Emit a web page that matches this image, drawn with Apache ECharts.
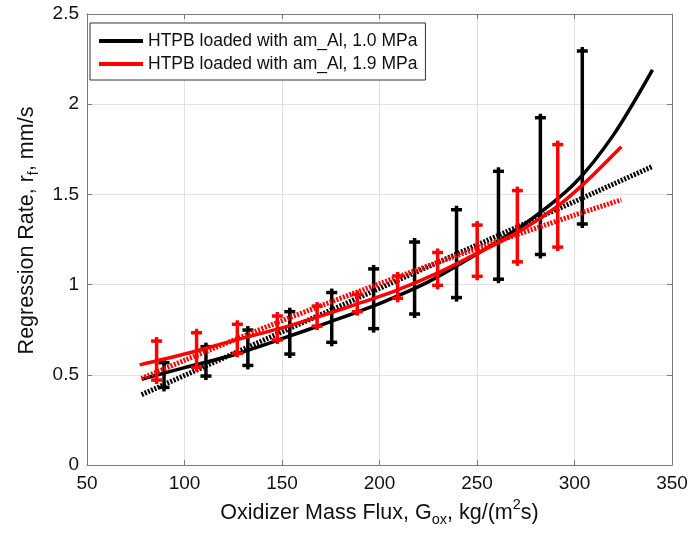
<!DOCTYPE html>
<html>
<head>
<meta charset="utf-8">
<script src="https://cdn.jsdelivr.net/npm/echarts@6/dist/echarts.min.js"></script>
<style>html,body{margin:0;padding:0;background:#fff}#c{width:691px;height:533px}</style>
</head>
<body>
<div id="c"></div>
<script>
// ---- data ----
const seriesNames = ['HTPB loaded with am_Al, 1.0 MPa', 'HTPB loaded with am_Al, 1.9 MPa'];

// error bars, 1.0 MPa (black)
const blackBarX    = [89.5, 111, 132.5, 154, 175.5, 197, 218, 239.5, 261, 282.5, 304];
const blackBarLow  = [0.43, 0.493, 0.552, 0.615, 0.68, 0.756, 0.837, 0.928, 1.03, 1.167, 1.336];
const blackBarHigh = [0.567, 0.656, 0.748, 0.85, 0.956, 1.087, 1.236, 1.415, 1.628, 1.925, 2.295];

// error bars, 1.9 MPa (red)
const redBarX    = [85.7, 106.2, 127.1, 147.6, 168, 188.6, 209.3, 229.8, 250.1, 270.7, 291.4];
const redBarLow  = [0.471, 0.541, 0.619, 0.693, 0.77, 0.85, 0.924, 0.996, 1.046, 1.126, 1.208];
const redBarHigh = [0.687, 0.733, 0.78, 0.826, 0.881, 0.945, 1.048, 1.178, 1.33, 1.521, 1.776];

// fitted curves (solid) and trend lines (dotted)
const blackFitX = [78, 100, 125, 150, 175, 200, 225, 250, 275, 300, 320, 340];
const blackFitY = [0.475, 0.54, 0.61, 0.70, 0.795, 0.895, 1.015, 1.17, 1.34, 1.56, 1.83, 2.19];
const redFitX   = [77, 100, 127, 150, 168, 185, 209, 230, 250, 270, 291, 305, 324];
const redFitY   = [0.555, 0.615, 0.695, 0.76, 0.82, 0.88, 0.97, 1.065, 1.173, 1.284, 1.432, 1.561, 1.764];
const blackTrendX = [78, 150, 200, 250, 300, 340];
const blackTrendY = [0.39, 0.738, 0.979, 1.22, 1.46, 1.655];
const redTrendX   = [78, 100, 150, 200, 250, 300, 324];
const redTrendY   = [0.48, 0.58, 0.80, 1.005, 1.20, 1.385, 1.47];

const xTickValues = [50, 100, 150, 200, 250, 300, 350];
const yTickValues = [0, 0.5, 1, 1.5, 2, 2.5];

// ---- chart ----
const zip = (xs, ys) => xs.map((x, i) => [x, ys[i]]);
const bars = (xs, lo, hi) => xs.map((x, i) => [x, lo[i], hi[i]]);
const FONT = 'Liberation Sans, Arial, sans-serif';

function renderErr(params, api) {
  const x = api.value(0), lo = api.value(1), hi = api.value(2);
  const pLo = api.coord([x, lo]);
  const pHi = api.coord([x, hi]);
  const c = api.visual('color');
  const st = { stroke: c, lineWidth: 3.5 };
  const cw = 5.5;
  return {
    type: 'group',
    children: [
      { type: 'line', shape: { x1: pLo[0], y1: pLo[1] + 4, x2: pHi[0], y2: pHi[1] - 4 }, style: st },
      { type: 'line', shape: { x1: pHi[0] - cw, y1: pHi[1], x2: pHi[0] + cw, y2: pHi[1] }, style: st },
      { type: 'line', shape: { x1: pLo[0] - cw, y1: pLo[1], x2: pLo[0] + cw, y2: pLo[1] }, style: st }
    ]
  };
}

const axisCommon = {
  axisLine: { show: true, lineStyle: { color: '#7a7a7a', width: 1 } },
  axisTick: { show: true, inside: true, length: 5, lineStyle: { color: '#7a7a7a' } },
  axisLabel: { color: '#111', fontSize: 19, fontFamily: FONT },
  splitLine: { show: true, lineStyle: { color: '#e2e2e2', width: 1 } }
};

const chart = echarts.init(document.getElementById('c'), null, { renderer: 'canvas' });
chart.setOption({
  backgroundColor: '#fff',
  animation: false,
  grid: { left: 87, right: 19, top: 14, bottom: 68, containLabel: false },
  legend: {
    data: seriesNames,
    orient: 'vertical',
    left: 90, top: 23,
    icon: 'rect', itemWidth: 44, itemHeight: 4, itemGap: 5,
    padding: [9, 8, 7, 9],
    borderColor: '#333', borderWidth: 1, backgroundColor: '#fff',
    textStyle: { fontSize: 17.5, fontFamily: FONT, color: '#111' },
    selectedMode: false
  },
  xAxis: [
    Object.assign({}, axisCommon, {
      type: 'value', min: 50, max: 350, interval: 50,
      axisLabel: Object.assign({}, axisCommon.axisLabel, { margin: 9,
        customValues: xTickValues }),
      name: 'Oxidizer Mass Flux, G{sub|ox}, kg/(m{sup|2}s)',
      nameLocation: 'middle', nameGap: 30,
      nameTextStyle: {
        fontSize: 21.5, fontFamily: FONT, color: '#111', lineHeight: 26,
        rich: {
          sub: { fontSize: 14.5, fontFamily: FONT, color: '#111', lineHeight: 15, padding: [15, 0, 0, 0] },
          sup: { fontSize: 14.5, fontFamily: FONT, color: '#111', lineHeight: 15, padding: [0, 0, 15, 0] }
        }
      }
    }),
    { type: 'value', min: 50, max: 350, interval: 50, position: 'top',
      axisLine: { show: true, onZero: false, lineStyle: { color: '#7a7a7a' } },
      axisTick: { show: true, inside: true, length: 5, lineStyle: { color: '#7a7a7a' } },
      axisLabel: { show: false }, splitLine: { show: false } }
  ],
  yAxis: [
    Object.assign({}, axisCommon, {
      type: 'value', min: 0, max: 2.5, interval: 0.5,
      axisLabel: Object.assign({}, axisCommon.axisLabel, { margin: 8,
        formatter: v => String(v) }),
      name: 'Regression Rate, r{sub|f}, mm/s',
      nameLocation: 'middle', nameGap: 44, nameRotate: 90,
      nameTextStyle: {
        fontSize: 21.5, fontFamily: FONT, color: '#111', lineHeight: 26,
        padding: [0, 0, 0, 18],
        rich: {
          sub: { fontSize: 14.5, fontFamily: FONT, color: '#111', lineHeight: 15, padding: [15, 0, 0, 0] }
        }
      }
    }),
    { type: 'value', min: 0, max: 2.5, interval: 0.5, position: 'right',
      axisLine: { show: true, onZero: false, lineStyle: { color: '#7a7a7a' } },
      axisTick: { show: true, inside: true, length: 5, lineStyle: { color: '#7a7a7a' } },
      axisLabel: { show: false }, splitLine: { show: false } }
  ],
  series: [
    { type: 'custom', name: 'bars1', renderItem: renderErr, itemStyle: { color: '#000' },
      encode: { x: 0, y: [1, 2] }, data: bars(blackBarX, blackBarLow, blackBarHigh), z: 2 },
    { type: 'line', name: 'trend1', data: zip(blackTrendX, blackTrendY), showSymbol: false,
      lineStyle: { color: '#000', width: 5, type: [2, 1.5] }, itemStyle: { color: '#000' }, z: 3 },
    { type: 'line', name: seriesNames[0], data: zip(blackFitX, blackFitY), showSymbol: false, smooth: 0.3,
      lineStyle: { color: '#000', width: 3.5 }, itemStyle: { color: '#000' }, z: 4 },
    { type: 'custom', name: 'bars2', renderItem: renderErr, itemStyle: { color: '#f00' },
      encode: { x: 0, y: [1, 2] }, data: bars(redBarX, redBarLow, redBarHigh), z: 5 },
    { type: 'line', name: 'trend2', data: zip(redTrendX, redTrendY), showSymbol: false, smooth: 0.3,
      lineStyle: { color: '#f00', width: 5, type: [2, 1.5] }, itemStyle: { color: '#f00' }, z: 6 },
    { type: 'line', name: seriesNames[1], data: zip(redFitX, redFitY), showSymbol: false, smooth: 0.3,
      lineStyle: { color: '#f00', width: 3.5 }, itemStyle: { color: '#f00' }, z: 7 }
  ]
});
</script>
</body>
</html>
